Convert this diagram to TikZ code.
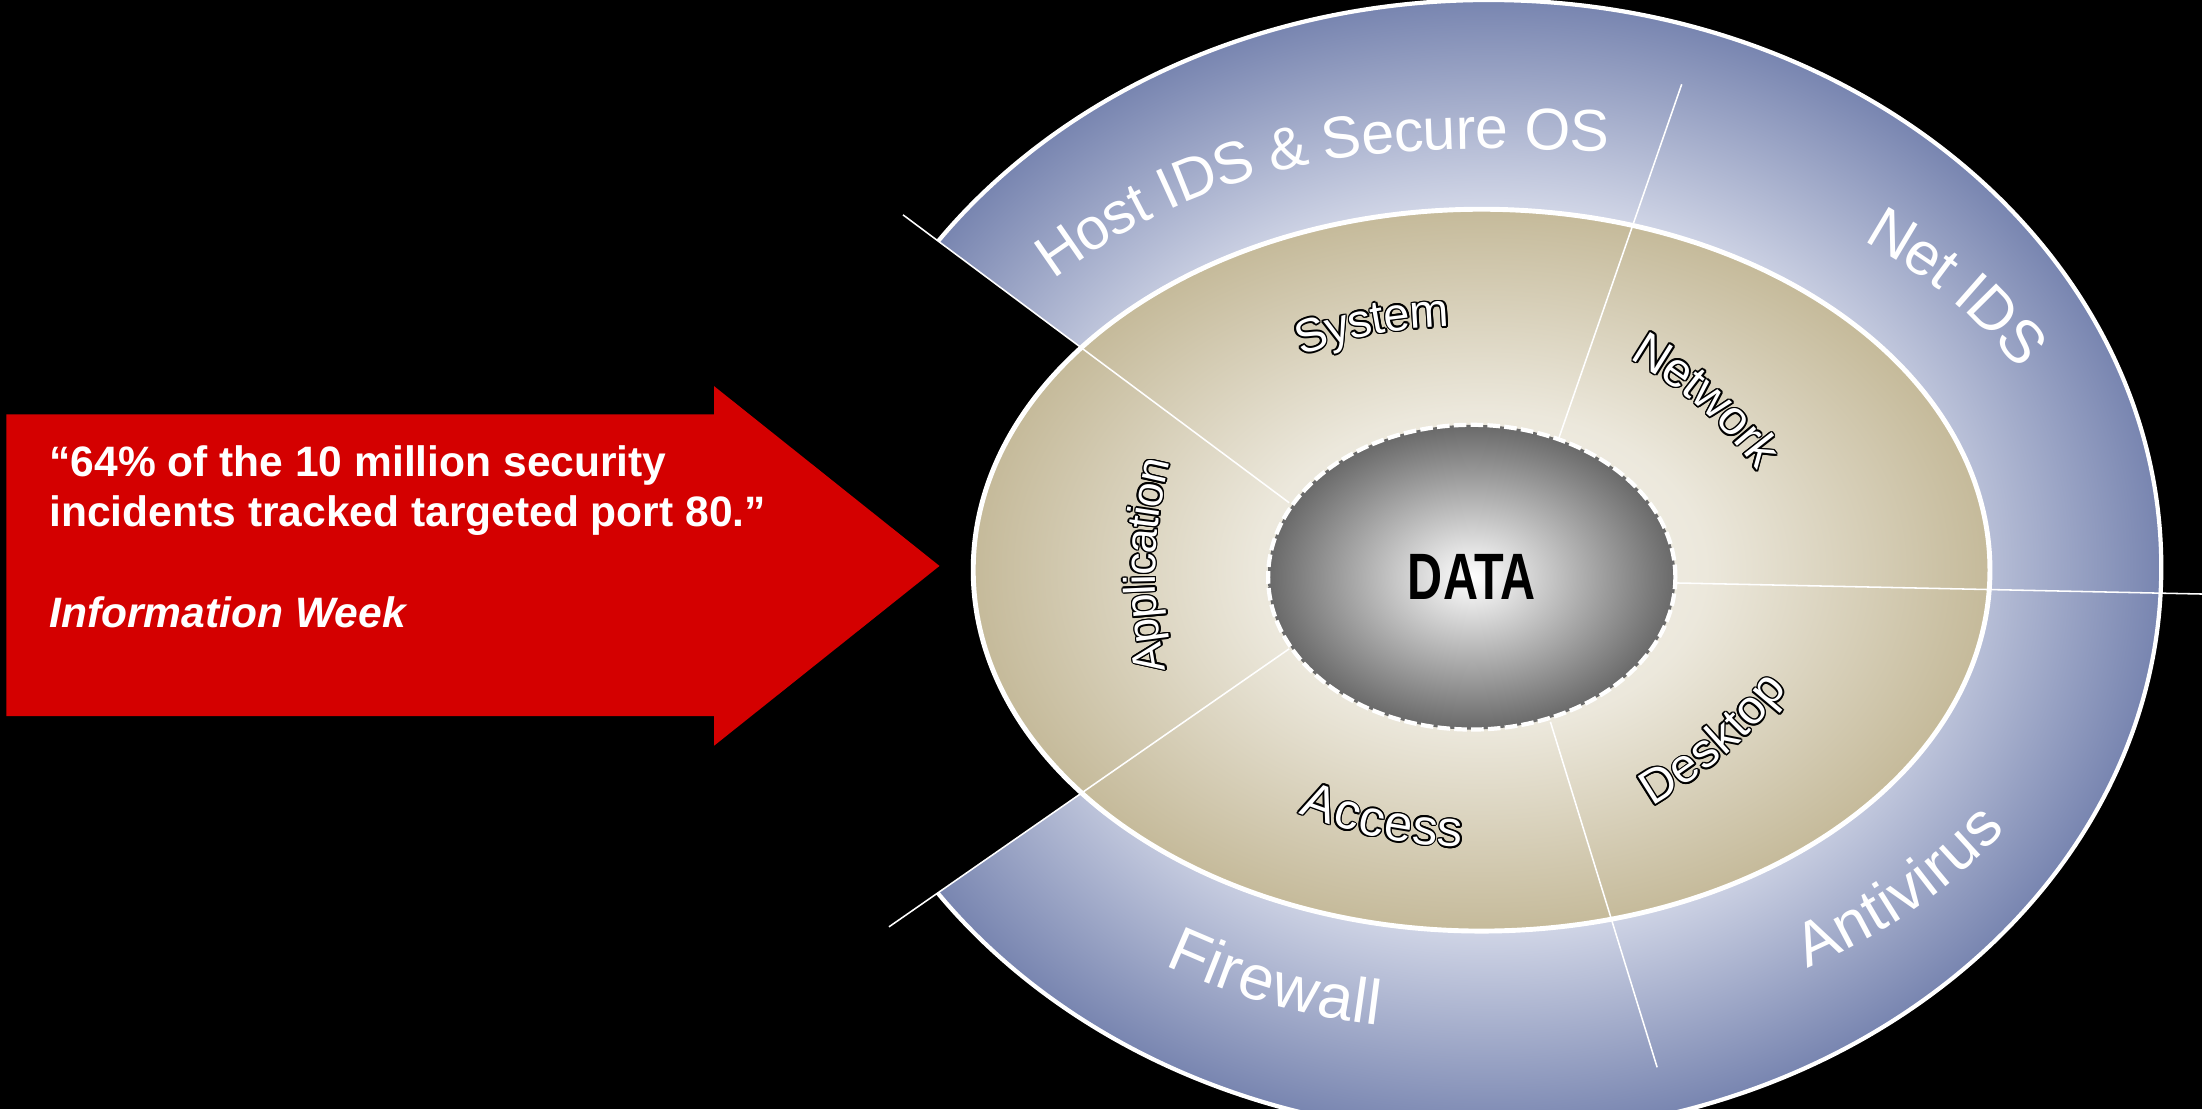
\documentclass[tikz,border=0pt]{standalone}
\usepackage{fontspec}
\setmainfont{Liberation Sans}
\newfontfamily\narrowsans[FakeStretch=0.74]{Liberation Sans}
\usetikzlibrary{decorations.text,shapes.geometric,calc}

\definecolor{arrowred}{RGB}{212,0,0}
\definecolor{bluelight}{RGB}{208,213,230}
\definecolor{bluedark}{RGB}{120,133,176}
\definecolor{tanlight}{RGB}{247,245,240}
\definecolor{tanmid}{RGB}{236,232,220}
\definecolor{tandark}{RGB}{197,186,154}
\definecolor{datadark}{RGB}{105,105,105}

\pgfdeclareradialshading{ringshade}{\pgfpoint{0bp}{0bp}}{color(0bp)=(bluelight); color(16bp)=(bluelight); color(25bp)=(bluedark); color(50bp)=(bluedark)}
\pgfdeclareradialshading{tanshade}{\pgfpoint{0bp}{0bp}}{color(0bp)=(tanlight); color(11bp)=(tanmid); color(25bp)=(tandark); color(50bp)=(tandark)}
\pgfdeclareradialshading{datashade}{\pgfpoint{0bp}{0bp}}{color(0bp)=(white); color(25bp)=(datadark); color(50bp)=(datadark)}

\tikzset{
  divider/.style={draw=white, line width=1.1pt},
  quote/.style={text=white, inner sep=0pt, anchor=base west, font=\bfseries\fontsize{30.3}{36}\selectfont},
  ringedge/.style={draw=white, line width=3pt},
}

% #1 size, #2 text, #3 start, #4 out, #5 end, #6 in, #7 colour, #8 raise
\newcommand\arclabel[8]{%
  \path[decorate, decoration={text along path, text align=center, raise=#8,
      text={|\fontsize{#1}{#1}\selectfont\color{#7}|#2}}]
    ($(#3)+({#4+180}:40pt)$) -- (#3) to[out=#4, in=#6] (#5) -- ($(#5)+({#6-180}:40pt)$);}
\newcommand\contourlabel[7]{%
  \foreach \oa in {0,30,...,330}{%
    \begin{scope}[transform canvas={shift={(\oa:1.1pt)}}]
      \arclabel{#1}{#2}{#3}{#4}{#5}{#6}{black}{#7}
    \end{scope}}%
  \arclabel{#1}{#2}{#3}{#4}{#5}{#6}{white}{#7}}

\begin{document}
\begin{tikzpicture}[x=1pt,y=1pt]
\useasboundingbox (0,0) rectangle (1568,790);
\fill[black] (0,0) rectangle (1568,790);
\clip (0,0) rectangle (1568,790);

% red arrow with quote
\fill[arrowred] (4.5,280) -- (508.5,280) -- (508.5,259) -- (669,387) -- (508.5,515) -- (508.5,495) -- (4.5,495) -- cycle;
\node[quote] (q1) at (35,450.5) {“64\% of the 10 million security};
\node[quote] (q2) at (35,415) {incidents tracked targeted port 80.”};
\node[quote, font=\bfseries\itshape\fontsize{30.3}{36}\selectfont] (src) at (35,343) {Information Week};

% outer ring (cut open on the left)
\begin{scope}
  \clip (990,378) -- (560,699) -- (560,830) -- (1610,830) -- (1610,-40) -- (560,-40) -- (560,79.3) -- cycle;
  \shadedraw[shading=ringshade, ringedge] (1060,386) ellipse [x radius=479pt, y radius=404pt];
\end{scope}

% tan ellipse
\shadedraw[shading=tanshade, draw=white, line width=3.5pt] (1055,384) ellipse [x radius=362pt, y radius=257pt];

% dividers
\coordinate (ulA) at (643,637);  \coordinate (ulB) at (918,432);
\coordinate (llA) at (633,130);  \coordinate (llB) at (918,328);
\coordinate (tA)  at (1197.5,730); \coordinate (tB) at (1110,478);
\coordinate (rA)  at (1568,367); \coordinate (rB) at (1188,375);
\coordinate (bA)  at (1180,30);  \coordinate (bB) at (1104,276);
\draw[divider] (ulA) -- (ulB);
\draw[divider] (llA) -- (llB);
\draw[divider] (tA) -- (tB);
\draw[divider] (rA) -- (rB);
\draw[divider] (bA) -- (bB);

% data core
\node[ellipse, minimum width=290pt, minimum height=217pt, inner sep=0pt, shade, shading=datashade,
      draw=white, line width=3pt, dash pattern=on 9pt off 3pt,
      font=\narrowsans\bfseries\fontsize{46.7}{46.7}\selectfont] (data) at (1048,379) {DATA};

% outer ring labels
\coordinate (hostS) at (743,604);   \coordinate (hostE) at (1145,697);
\coordinate (netS) at (1336,630.5); \coordinate (netE) at (1448,537);
\coordinate (antiS) at (1279,114);  \coordinate (antiE) at (1419,211);
\coordinate (fireS) at (834.6,117.6); \coordinate (fireE) at (984.5,75.4);
\arclabel{42}{Host IDS {\&} Secure OS}{hostS}{36}{hostE}{178}{white}{-14.7pt}
\arclabel{43}{Net IDS}{netS}{-30}{netE}{129}{white}{-15pt}
\arclabel{44}{Antivirus}{antiS}{24}{antiE}{226}{white}{-15.4pt}
\arclabel{45}{Firewall}{fireS}{-24}{fireE}{173}{white}{-15.7pt}

% inner ring labels (outlined)
\coordinate (sysS) at (922.2,547.6);  \coordinate (sysE) at (1032.4,569.1);
\coordinate (netwS) at (1166.2,545.3); \coordinate (netwE) at (1261,461.6);
\coordinate (deskS) at (1169.7,225.6); \coordinate (deskE) at (1264,307);
\coordinate (accS) at (926.6,223.8);  \coordinate (accE) at (1044.3,199.4);
\coordinate (appS) at (820.3,306.2);  \coordinate (appE) at (823.6,468.3);
\contourlabel{33.5}{System}{sysS}{20}{sysE}{182}{-11.7pt}
\contourlabel{34.4}{Network}{netwS}{-31}{netwE}{127}{-12pt}
\contourlabel{34}{Desktop}{deskS}{31}{deskE}{231}{-11.9pt}
\contourlabel{36}{Access}{accS}{-21}{accE}{178}{-12.6pt}
\contourlabel{31.5}{Application}{appS}{101}{appE}{256}{-11pt}
\end{tikzpicture}
\end{document}
